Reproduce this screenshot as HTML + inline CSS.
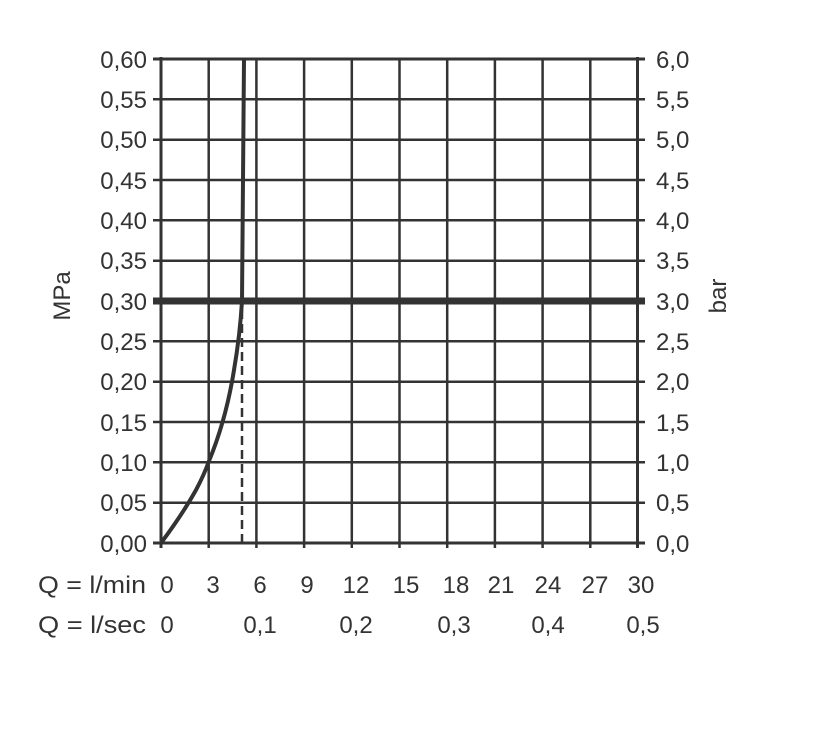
<!DOCTYPE html>
<html><head><meta charset="utf-8"><style>html,body{margin:0;padding:0;background:#fff}svg{display:block}</style></head>
<body>
<svg width="838" height="747" viewBox="0 0 838 747" xmlns="http://www.w3.org/2000/svg" font-family="Liberation Sans, sans-serif" font-size="24" fill="#333">
<rect width="838" height="747" fill="#fff"/>
<g stroke="#333" stroke-width="2.5">
<line x1="208.7" y1="59" x2="208.7" y2="548"/>
<line x1="256.4" y1="59" x2="256.4" y2="548"/>
<line x1="304.1" y1="59" x2="304.1" y2="548"/>
<line x1="351.8" y1="59" x2="351.8" y2="548"/>
<line x1="399.5" y1="59" x2="399.5" y2="548"/>
<line x1="447.2" y1="59" x2="447.2" y2="548"/>
<line x1="494.9" y1="59" x2="494.9" y2="548"/>
<line x1="542.6" y1="59" x2="542.6" y2="548"/>
<line x1="590.3" y1="59" x2="590.3" y2="548"/>
<line x1="153" y1="99.3" x2="645" y2="99.3"/>
<line x1="153" y1="139.7" x2="645" y2="139.7"/>
<line x1="153" y1="180" x2="645" y2="180"/>
<line x1="153" y1="220.3" x2="645" y2="220.3"/>
<line x1="153" y1="260.7" x2="645" y2="260.7"/>
<line x1="153" y1="341.3" x2="645" y2="341.3"/>
<line x1="153" y1="381.7" x2="645" y2="381.7"/>
<line x1="153" y1="422" x2="645" y2="422"/>
<line x1="153" y1="462.3" x2="645" y2="462.3"/>
<line x1="153" y1="502.7" x2="645" y2="502.7"/>
<line x1="153" y1="59" x2="645" y2="59" stroke-width="3"/>
<line x1="153" y1="543" x2="645" y2="543" stroke-width="3"/>
<line x1="161" y1="57" x2="161" y2="548" stroke-width="3"/>
<line x1="637.5" y1="57" x2="637.5" y2="548" stroke-width="3"/>
</g>
<line x1="153" y1="301" x2="645" y2="301" stroke="#333" stroke-width="7"/>
<line x1="242" y1="310" x2="242" y2="543" stroke="#333" stroke-width="2.5" stroke-dasharray="9,5"/>
<path d="M161,543 Q182,515 196,490 Q204,475 209,461 Q226,420 234,370 Q240,335 242,301 L244,59" fill="none" stroke="#333" stroke-width="4"/>
<g text-anchor="end">
<text x="147" y="68">0,60</text><text x="147" y="108">0,55</text><text x="147" y="148">0,50</text><text x="147" y="189">0,45</text><text x="147" y="229">0,40</text><text x="147" y="269">0,35</text><text x="147" y="310">0,30</text><text x="147" y="350">0,25</text><text x="147" y="390">0,20</text><text x="147" y="431">0,15</text><text x="147" y="471">0,10</text><text x="147" y="511">0,05</text><text x="147" y="552">0,00</text>
</g>
<g>
<text x="656" y="68">6,0</text><text x="656" y="108">5,5</text><text x="656" y="148">5,0</text><text x="656" y="189">4,5</text><text x="656" y="229">4,0</text><text x="656" y="269">3,5</text><text x="656" y="310">3,0</text><text x="656" y="350">2,5</text><text x="656" y="390">2,0</text><text x="656" y="431">1,5</text><text x="656" y="471">1,0</text><text x="656" y="511">0,5</text><text x="656" y="552">0,0</text>
</g>
<text transform="translate(70,296) rotate(-90)" text-anchor="middle">MPa</text>
<text transform="translate(726,296) rotate(-90)" text-anchor="middle">bar</text>
<g text-anchor="middle">
<text x="167" y="593">0</text><text x="213" y="593">3</text><text x="260" y="593">6</text><text x="307" y="593">9</text><text x="356" y="593">12</text><text x="406" y="593">15</text><text x="456" y="593">18</text><text x="501" y="593">21</text><text x="548" y="593">24</text><text x="595" y="593">27</text><text x="641" y="593">30</text>
<text x="167" y="633">0</text><text x="260" y="633">0,1</text><text x="356" y="633">0,2</text><text x="454" y="633">0,3</text><text x="548" y="633">0,4</text><text x="643" y="633">0,5</text>
</g>
<text x="38" y="593" textLength="108" lengthAdjust="spacingAndGlyphs">Q = l/min</text>
<text x="38" y="633" textLength="108" lengthAdjust="spacingAndGlyphs">Q = l/sec</text>
</svg>
</body></html>
